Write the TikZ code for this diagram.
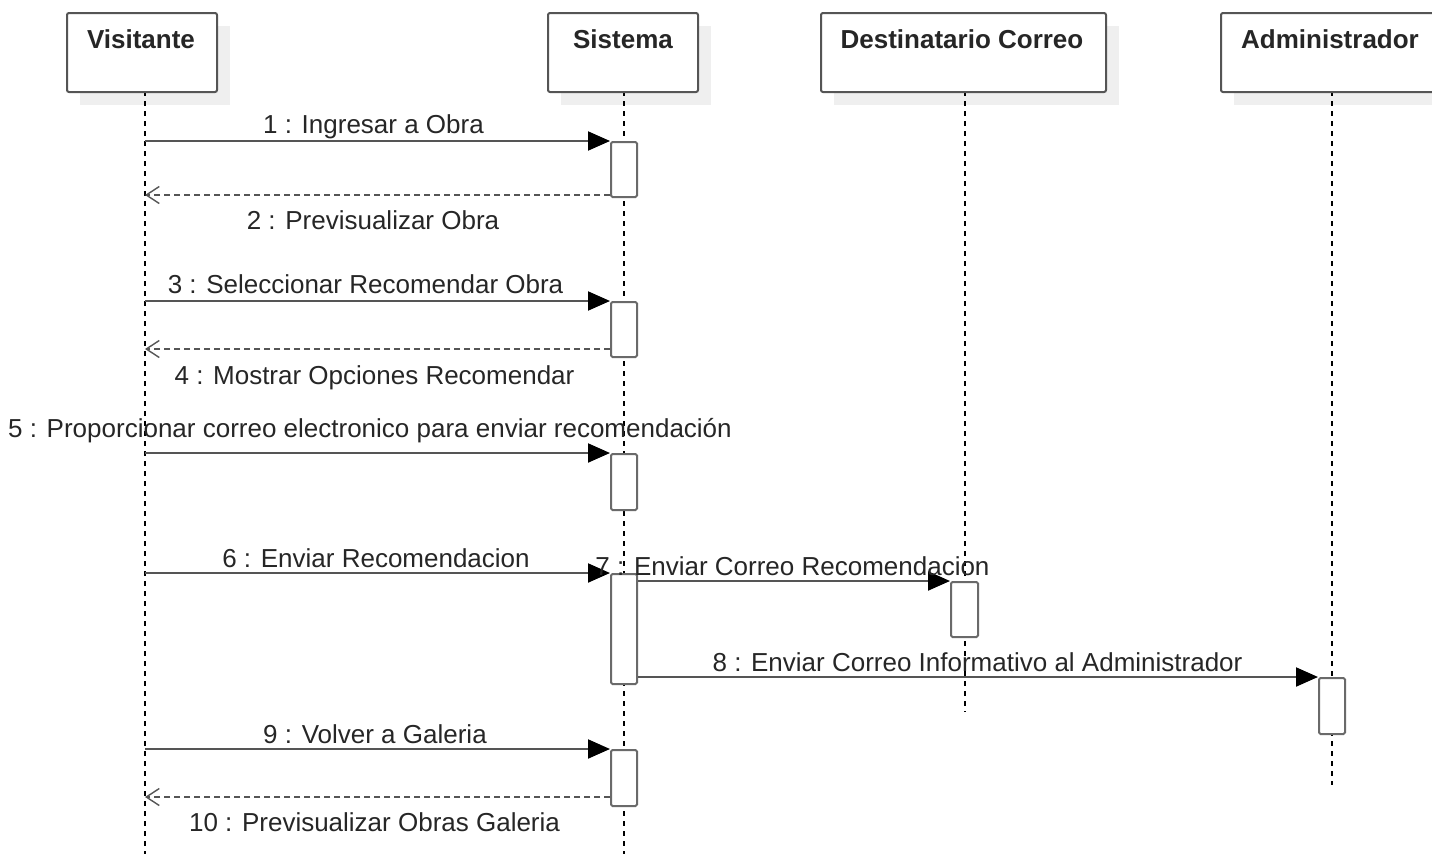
\documentclass[tikz,border=0pt]{standalone}
\usepackage{fontspec}
\setmainfont{Liberation Sans}
\usetikzlibrary{arrows.meta}
\definecolor{linegray}{HTML}{555555}
\definecolor{actgray}{HTML}{6A6A6A}
\definecolor{shadowgray}{HTML}{EFEFEF}
\tikzset{
  actorbox/.style={draw=linegray, line width=2pt, fill=white, rounded corners=2pt},
  actorshadow/.style={fill=shadowgray, draw=none},
  actortext/.style={font=\fontsize{26}{30}\selectfont\bfseries, text=black!85, anchor=base, inner sep=0pt},
  lifeline/.style={draw=black, line width=1.6pt, dash pattern=on 5pt off 5pt},
  actbox/.style={draw=actgray, line width=2pt, fill=white, rounded corners=1.5pt},
  msg/.style={draw=linegray, line width=2pt, -{Triangle[length=22pt,width=19pt,fill=black,color=black]}},
  retmsg/.style={draw=linegray, line width=2pt, dash pattern=on 6pt off 4pt, -{Straight Barb[length=13pt,width=17pt,line width=1.4pt]}},
  msglabel/.style={font=\fontsize{26}{30}\selectfont, text=black!85, anchor=base, inner sep=0pt},
}
\begin{document}
\begin{tikzpicture}[x=1pt,y=-1pt]
\useasboundingbox (0,0) rectangle (1432,854);
\clip (0,0) rectangle (1432,854);
% shadows
\fill[actorshadow] (80,26) rectangle (230,105);
\fill[actorshadow] (561,26) rectangle (711,105);
\fill[actorshadow] (834,26) rectangle (1119,105);
\fill[actorshadow] (1234,26) rectangle (1460,105);
% lifelines
\coordinate (vtop) at (145,91);  \coordinate (vbot) at (145,854);
\coordinate (stop) at (624,91);  \coordinate (sbot) at (624,854);
\coordinate (dtop) at (965,91);  \coordinate (dbot) at (965,712);
\coordinate (atop) at (1332,91); \coordinate (abot) at (1332,785);
\draw[lifeline] (vtop) -- (vbot);
\draw[lifeline] (stop) -- (sbot);
\draw[lifeline] (dtop) -- (dbot);
\draw[lifeline] (atop) -- (abot);
% actor boxes
\node[actorbox, minimum width=150pt, minimum height=79pt, anchor=north west] (visitante) at (66,12) {};
\node[actorbox, minimum width=150pt, minimum height=79pt, anchor=north west] (sistema) at (547,12) {};
\node[actorbox, minimum width=285pt, minimum height=79pt, anchor=north west] (destinatario) at (820,12) {};
\node[actorbox, minimum width=224pt, minimum height=79pt, anchor=north west] (admin) at (1220,12) {};
\node[actortext] (tvis) at (141,48) {Visitante};
\node[actortext] (tsis) at (623,48) {Sistema};
\node[actortext] (tdes) at (962,48) {Destinatario Correo};
\node[actortext] (tadm) at (1330,48) {Administrador};
% activation boxes
\node[actbox, minimum width=26pt, minimum height=55pt, anchor=north west, inner sep=0pt] (a1) at (610,141) {};
\node[actbox, minimum width=26pt, minimum height=55pt, anchor=north west, inner sep=0pt] (a3) at (610,301) {};
\node[actbox, minimum width=26pt, minimum height=56pt, anchor=north west, inner sep=0pt] (a5) at (610,453) {};
\node[actbox, minimum width=26pt, minimum height=110pt, anchor=north west, inner sep=0pt] (a6) at (610,573) {};
\node[actbox, minimum width=27pt, minimum height=55pt, anchor=north west, inner sep=0pt] (a7) at (950,581) {};
\node[actbox, minimum width=26pt, minimum height=56pt, anchor=north west, inner sep=0pt] (a8) at (1318,677) {};
\node[actbox, minimum width=26pt, minimum height=56pt, anchor=north west, inner sep=0pt] (a9) at (610,749) {};
% endpoints on the Visitante lifeline
\coordinate (v1) at (145,141);
\coordinate (v2) at (145,195);
\coordinate (v3) at (145,301);
\coordinate (v4) at (145,349);
\coordinate (v5) at (145,453);
\coordinate (v6) at (145,573);
\coordinate (v9) at (145,749);
\coordinate (v10) at (145,797);
% messages
\draw[msg] (v1) -- (a1.north west);
\draw[retmsg] (a1.west |- v2) -- (v2);
\draw[msg] (v3) -- (a3.north west);
\draw[retmsg] (a3.west |- v4) -- (v4);
\draw[msg] (v5) -- (a5.north west);
\draw[msg] (v6) -- (a6.north west);
\draw[msg] (a6.east |- a7.north) -- (a7.north west);
\draw[msg] (a6.east |- a8.north) -- (a8.north west);
\draw[msg] (v9) -- (a9.north west);
\draw[retmsg] (a9.west |- v10) -- (v10);
% labels
\node[msglabel] (l1) at (373.5,133) {1 : Ingresar a Obra};
\node[msglabel] (l2) at (373,229) {2 : Previsualizar Obra};
\node[msglabel] (l3) at (365.5,293) {3 : Seleccionar Recomendar Obra};
\node[msglabel] (l4) at (374.5,384) {4 : Mostrar Opciones Recomendar};
\node[msglabel] (l5) at (370,437) {5 : Proporcionar correo electronico para enviar recomendación};
\node[msglabel] (l6) at (376,567) {6 : Enviar Recomendacion};
\node[msglabel] (l7) at (792.5,575) {7 : Enviar Correo Recomendacion};
\node[msglabel] (l8) at (977.5,671) {8 : Enviar Correo Informativo al Administrador};
\node[msglabel] (l9) at (375,743) {9 : Volver a Galeria};
\node[msglabel] (l10) at (374.5,831) {10 : Previsualizar Obras Galeria};
\end{tikzpicture}
\end{document}
